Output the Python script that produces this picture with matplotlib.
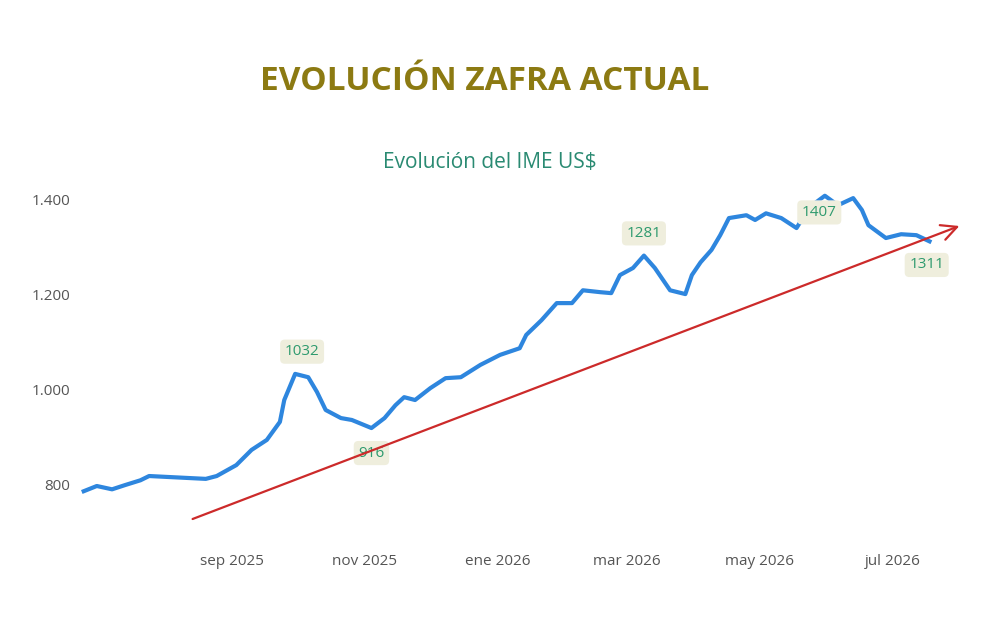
import matplotlib
matplotlib.use('Agg')
import matplotlib.pyplot as plt
import pandas as pd

plt.rcParams['font.family'] = ['Open Sans', 'DejaVu Sans']

# datos
fechas = ['2025-06-25', '2025-07-01', '2025-07-08', '2025-07-14', '2025-07-21', '2025-07-25',
          '2025-08-20', '2025-08-25', '2025-09-03', '2025-09-10', '2025-09-17', '2025-09-23',
          '2025-09-25', '2025-09-30', '2025-10-06', '2025-10-10', '2025-10-14', '2025-10-21',
          '2025-10-26', '2025-11-04', '2025-11-10', '2025-11-15', '2025-11-19', '2025-11-24',
          '2025-12-01', '2025-12-08', '2025-12-15', '2025-12-24', '2026-01-02', '2026-01-11',
          '2026-01-14', '2026-01-21', '2026-01-28', '2026-02-04', '2026-02-09', '2026-02-17',
          '2026-02-22', '2026-02-26', '2026-03-04', '2026-03-09', '2026-03-14', '2026-03-21',
          '2026-03-28', '2026-03-31', '2026-04-04', '2026-04-09', '2026-04-13', '2026-04-17',
          '2026-04-25', '2026-04-29', '2026-05-04', '2026-05-11', '2026-05-18', '2026-05-24',
          '2026-05-31', '2026-06-06', '2026-06-13', '2026-06-17', '2026-06-20', '2026-06-28',
          '2026-07-05', '2026-07-12', '2026-07-18']
ime = [785, 796, 789, 798, 808, 817,
       811, 817, 840, 872, 893, 931,
       977, 1032, 1025, 994, 956, 939,
       935, 918, 939, 966, 983, 977,
       1002, 1023, 1025, 1051, 1072, 1086,
       1114, 1145, 1181, 1181, 1208, 1204,
       1202, 1240, 1255, 1281, 1255, 1208,
       1200, 1240, 1267, 1293, 1324, 1360,
       1366, 1356, 1370, 1360, 1339, 1383,
       1407, 1387, 1402, 1377, 1345, 1318,
       1326, 1324, 1311]
# (fecha, valor, texto, desplazamiento x, desplazamiento y)
etiquetas = [('2025-09-30', 1032, '1032', 5, 16), ('2025-11-04', 918, '916', 0, -18),
             ('2026-03-09', 1281, '1281', 0, 16), ('2026-05-31', 1407, '1407', -4, -12),
             ('2026-07-18', 1311, '1311', -2, -17)]

fechas = pd.to_datetime(fechas)

fig = plt.figure(figsize=(10, 6.26), dpi=100)
ax = fig.add_axes([0.075, 0.169, 0.885, 0.535])
ax.plot(fechas, ime, color='#2e86de', linewidth=3, solid_joinstyle='round')

for f, v, txt, dx, dy in etiquetas:
    ax.annotate(txt, (pd.Timestamp(f), v), xytext=(dx, dy), textcoords='offset points',
                ha='center', va='center', fontsize=11, color='#2e9a6e',
                bbox=dict(boxstyle='round,pad=0.3', fc='#efeedd', ec='none'))

ax.set_xlim(pd.Timestamp('2025-06-21'), pd.Timestamp('2026-08-01'))
ax.set_ylim(724, 1429)
ax.set_yticks([800, 1000, 1200, 1400])
ax.set_yticklabels(['800', '1.000', '1.200', '1.400'])
meses = pd.to_datetime(['2025-09-01', '2025-11-01', '2026-01-01', '2026-03-01', '2026-05-01', '2026-07-01'])
ax.set_xticks(meses)
ax.set_xticklabels(['sep 2025', 'nov 2025', 'ene 2026', 'mar 2026', 'may 2026', 'jul 2026'])
ax.tick_params(length=0, labelsize=11, colors='#555555')
ax.tick_params(axis='x', pad=24)
for s in ax.spines.values():
    s.set_visible(False)

fig.text(0.485, 0.87, 'EVOLUCIÓN ZAFRA ACTUAL', ha='center', va='center',
         fontsize=24, fontweight='bold', color='#8c7a12')
fig.text(0.49, 0.741, 'Evolución del IME US$', ha='center', va='center',
         fontsize=15, color='#2a8a72')

# flecha de tendencia
fig.add_artist(matplotlib.patches.FancyArrowPatch(
    (0.19, 1 - 520 / 626), (0.962, 1 - 225 / 626), transform=fig.transFigure,
    arrowstyle='->', mutation_scale=28, color='#cc2a2a', linewidth=1.6))

plt.savefig('out.png', dpi=100)
